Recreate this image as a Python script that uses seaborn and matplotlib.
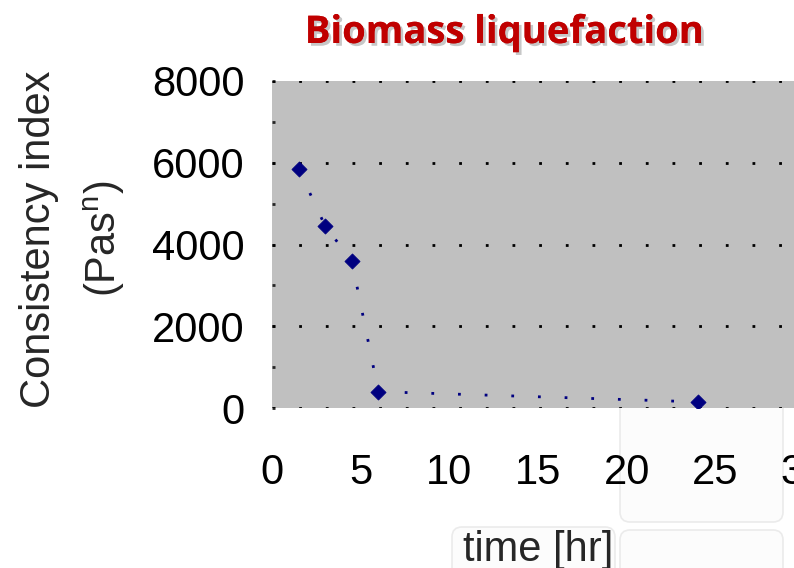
import matplotlib
matplotlib.use("Agg")
import matplotlib.pyplot as plt
import matplotlib.patheffects as pe
from matplotlib.patches import FancyBboxPatch
from matplotlib.ticker import MultipleLocator
import seaborn as sns
import pandas as pd

# ---- data ----
time_hr = [1.5, 3.0, 4.5, 6.0, 24.0]
consistency = [5850, 4450, 3600, 400, 150]
x_ticks = [0, 5, 10, 15, 20, 25, 30]
y_ticks = [0, 2000, 4000, 6000, 8000]

title = "Biomass liquefaction"
xlabel = "time [hr]"
ylabel = "Consistency index\n(Pas$^{\\mathrm{n}}$)"

sns.set_style("white")
plt.rcParams['font.family'] = ['Liberation Sans', 'DejaVu Sans']
plt.rcParams['mathtext.fontset'] = 'custom'
plt.rcParams['mathtext.rm'] = 'Liberation Sans'
plt.rcParams['mathtext.it'] = 'Liberation Sans'

df = pd.DataFrame({"t": time_hr, "k": consistency})

W, H = 794, 568
fig = plt.figure(figsize=(W / 100, H / 100), dpi=100)

# faint rounded boxes (background decoration)
bg = fig.add_axes([0, 0, 1, 1], zorder=-10)
bg.set_axis_off()
bg.set_xlim(0, W)
bg.set_ylim(H, 0)
for (x0, y0, x1, y1) in [(620, 380, 783, 522), (620, 530, 783, 600), (452, 527, 615, 600)]:
    bg.add_patch(FancyBboxPatch((x0, y0), x1 - x0, y1 - y0,
                                boxstyle="round,pad=0,rounding_size=10",
                                facecolor="#fcfcfc", edgecolor="#ebebeb", linewidth=1.2))

left, right, top, bottom = 272, 804, 81, 408
ax = fig.add_axes([left / W, 1 - bottom / H, (right - left) / W, (bottom - top) / H])
ax.set_facecolor("#C0C0C0")

sns.lineplot(data=df, x="t", y="k", ax=ax, color="#000080", linewidth=2,
             linestyle=(0, (1, 8.6)), zorder=3)
sns.scatterplot(data=df, x="t", y="k", ax=ax, color="#000080", marker="D",
                s=60, edgecolor="#000080", linewidth=0.5, zorder=4)

ax.set_xlim(0, 30)
ax.set_ylim(0, 8000)

for s in ax.spines.values():
    s.set_visible(False)

ax.grid(False)
ax.yaxis.grid(True, color="black", linestyle=(0, (1, 8.6)), linewidth=2)
ax.set_axisbelow(True)

# y ticks: dots outside
ax.spines['left'].set_position(('outward', 11))
ax.set_yticks(y_ticks)
ax.tick_params(axis='y', direction='out', length=1.5, width=2, colors='black',
               labelsize=30, pad=7)
ax.yaxis.set_minor_locator(MultipleLocator(1000))
ax.tick_params(axis='y', which='minor', length=0)

sec = ax.secondary_yaxis(0.0)
sec.spines['left'].set_visible(False)
sec.yaxis.set_major_locator(MultipleLocator(1000))
sec.tick_params(axis='y', direction='in', length=2, width=2, labelleft=False)

# x ticks: dots below
ax.spines['bottom'].set_position(('outward', 14))
ax.set_xticks(x_ticks)
ax.tick_params(axis='x', direction='out', length=1.5, width=2, colors='black',
               labelsize=30, pad=17)

ax.set_xlabel(xlabel, fontsize=30)
ax.xaxis.set_label_coords(0.5, -0.373)
ax.set_ylabel(ylabel, fontsize=30, linespacing=1.66)
ax.yaxis.set_label_coords(-0.2726, 0.517)

fig.text(505 / W, 1 - 43 / H, title, ha="center", va="baseline", fontsize=27.5,
         fontweight="bold", family=["Open Sans", "DejaVu Sans"], color="#C00000",
         path_effects=[pe.withSimplePatchShadow(offset=(2, -2), shadow_rgbFace="#999999", alpha=0.55),
                       pe.Normal()])

fig.savefig("out.png", dpi=100)
